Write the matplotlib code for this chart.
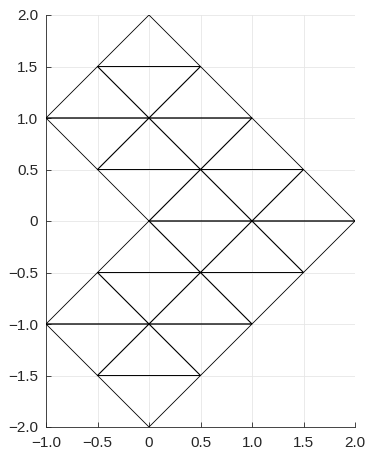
import matplotlib
matplotlib.use("Agg")
import matplotlib.pyplot as plt
from matplotlib.ticker import FuncFormatter

# Rhombic cells of the mesh: centres of each diamond (half-width 0.5, half-height 0.5)
cell_x = [0.0, -0.5, 0.5, 0.0, 1.0, 0.5, 1.5, 0.0, 1.0, -0.5, 0.5, 0.0]
cell_y = [1.5, 1.0, 1.0, 0.5, 0.5, 0.0, 0.0, -0.5, -0.5, -1.0, -1.0, -1.5]
half = 0.5

x_ticks = [-1.0, -0.5, 0.0, 0.5, 1.0, 1.5, 2.0]
y_ticks = [-2.0, -1.5, -1.0, -0.5, 0.0, 0.5, 1.0, 1.5, 2.0]

# Build triangle vertex lists: each diamond is split by its horizontal diagonal
tri_x, tri_y = [], []
for cx, cy in zip(cell_x, cell_y):
    left, right = (cx - half, cy), (cx + half, cy)
    top, bottom = (cx, cy + half), (cx, cy - half)
    for apex in (top, bottom):
        pts = [left, right, apex, left]
        tri_x.append([p[0] for p in pts])
        tri_y.append([p[1] for p in pts])

plt.rcParams["font.family"] = ["Liberation Sans", "DejaVu Sans"]

fig = plt.figure(figsize=(3.66, 4.5), dpi=100)
ax = fig.add_axes([46 / 366, 23 / 450, 309 / 366, 412 / 450])

for xs, ys in zip(tri_x, tri_y):
    ax.plot(xs, ys, color="black", linewidth=0.6, solid_joinstyle="miter", zorder=3)

ax.set_xlim(-1.0, 2.0)
ax.set_ylim(-2.0, 2.0)
ax.set_xticks(x_ticks)
ax.set_yticks(y_ticks)

def fmt(v, pos):
    if abs(v) < 1e-9:
        return "0"
    return f"{v:.1f}".replace("-", "\u2212")

ax.xaxis.set_major_formatter(FuncFormatter(fmt))
ax.yaxis.set_major_formatter(FuncFormatter(fmt))

ax.grid(True, color="#e6e6e6", linewidth=0.6, zorder=0)
ax.set_axisbelow(True)

for side in ("top", "right"):
    ax.spines[side].set_visible(False)
for side in ("left", "bottom"):
    ax.spines[side].set_color("#262626")
    ax.spines[side].set_linewidth(0.6)

ax.tick_params(direction="in", length=3.5, width=0.6, color="#262626",
               labelcolor="#262626", labelsize=11)
ax.tick_params(axis="y", pad=5.5)
ax.tick_params(axis="x", pad=6.5)

fig.savefig("out.png", dpi=100)
